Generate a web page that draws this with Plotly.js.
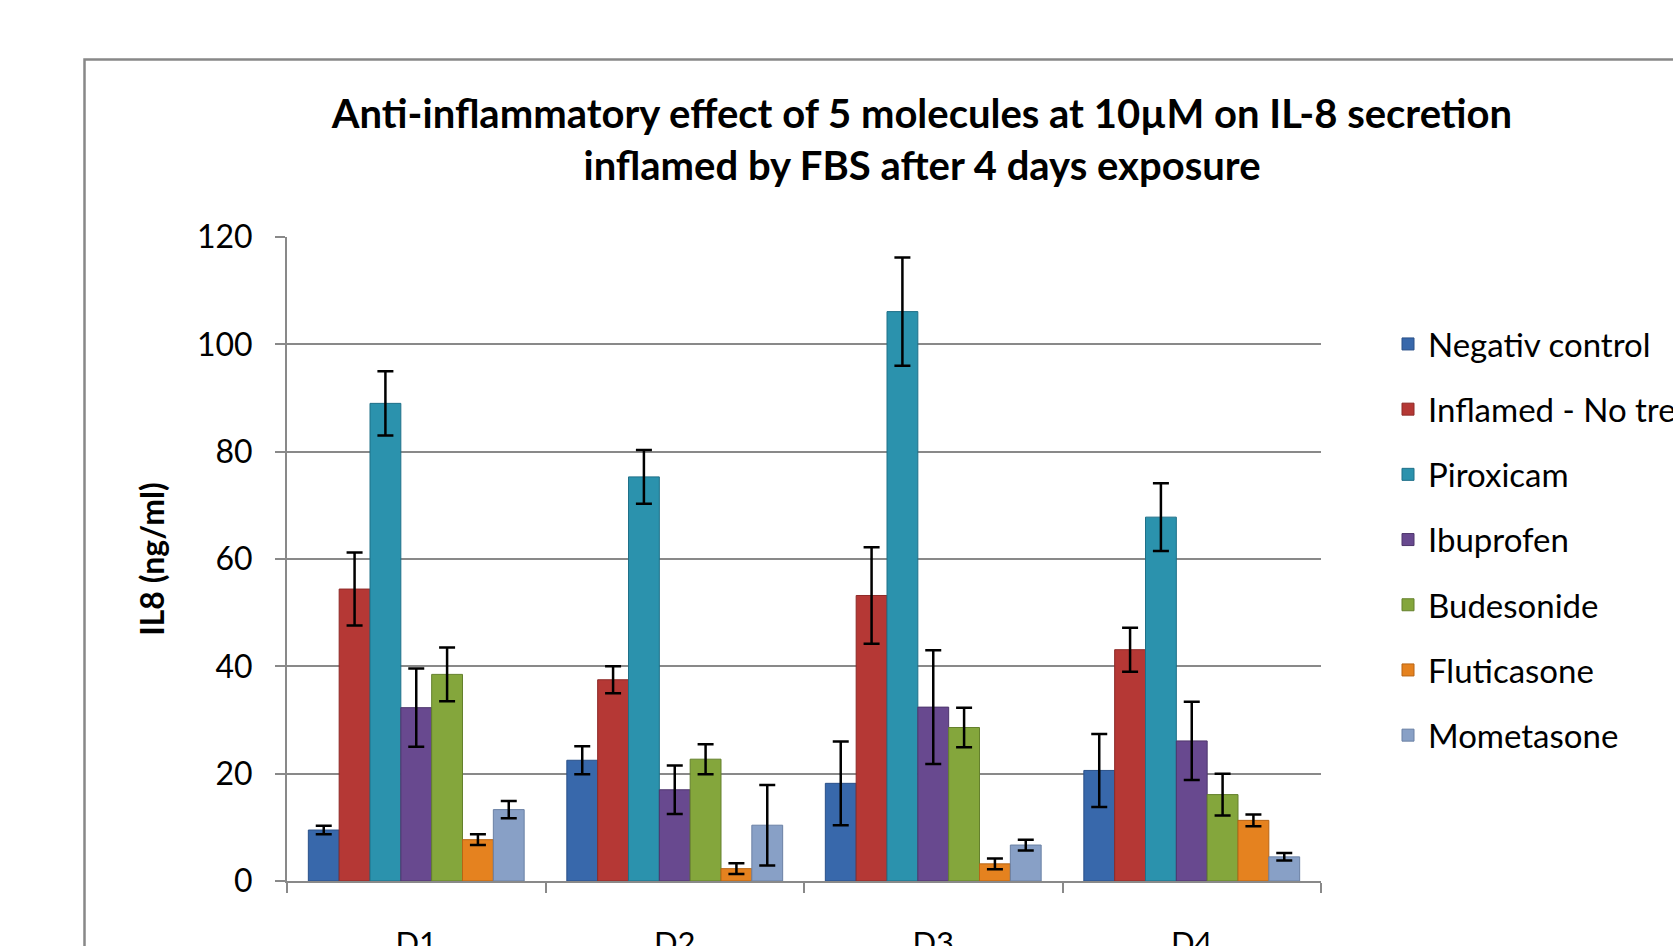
<!DOCTYPE html>
<html>
<head>
<meta charset="utf-8">
<script src="https://cdn.plot.ly/plotly-3.0.1.min.js"></script>
<style>
html,body{margin:0;padding:0;background:#fff;}
#chart{width:1673px;height:946px;}
</style>
</head>
<body>
<div id="chart"></div>
<script>
const categories = ["D1", "D2", "D3", "D4"];
const seriesNames = ["Negativ control", "Inflamed - No treatment", "Piroxicam", "Ibuprofen", "Budesonide", "Fluticasone", "Mometasone"];
const negativControl = [9.5, 22.5, 18.2, 20.6];
const negativControlErr = [0.8, 2.6, 7.8, 6.8];
const inflamed = [54.4, 37.5, 53.2, 43.1];
const inflamedErr = [6.8, 2.5, 9.0, 4.1];
const piroxicam = [89.0, 75.3, 106.1, 67.8];
const piroxicamErr = [6.0, 5.0, 10.1, 6.3];
const ibuprofen = [32.3, 17.0, 32.4, 26.1];
const ibuprofenErr = [7.3, 4.5, 10.6, 7.3];
const budesonide = [38.5, 22.7, 28.6, 16.1];
const budesonideErr = [5.0, 2.8, 3.7, 3.9];
const fluticasone = [7.7, 2.3, 3.2, 11.3];
const fluticasoneErr = [1.0, 1.0, 1.0, 1.1];
const mometasone = [13.3, 10.4, 6.7, 4.5];
const mometasoneErr = [1.6, 7.5, 1.0, 0.7];
const yTickValues = [0, 20, 40, 60, 80, 100, 120];

const seriesValues = [negativControl, inflamed, piroxicam, ibuprofen, budesonide, fluticasone, mometasone];
const seriesErrors = [negativControlErr, inflamedErr, piroxicamErr, ibuprofenErr, budesonideErr, fluticasoneErr, mometasoneErr];
const colors = ["#3868ab", "#b53835", "#2b92ad", "#68498f", "#84a63c", "#e5821f", "#88a0c6"];
const edgeColors = ["#2a5088", "#8e2a28", "#1f7088", "#4e366c", "#64802c", "#b86414", "#6a80a4"];

const W = 1673, H = 946;
const FONT = "Lato, 'Open Sans', sans-serif";

const traces = seriesNames.map((name, i) => ({
  type: "bar",
  name: name,
  x: categories,
  y: seriesValues[i],
  legendgroup: "g" + i,
  marker: { color: colors[i], line: { color: edgeColors[i], width: 1 } },
  error_y: { type: "data", array: seriesErrors[i], visible: true, color: "#000", thickness: 2.5, width: 8 },
  hoverinfo: "name+y"
}));

const layout = {
  width: W, height: H,
  margin: { l: 0, r: 0, t: 0, b: 0, autoexpand: false },
  paper_bgcolor: "#fff",
  plot_bgcolor: "#fff",
  font: { family: FONT, color: "#000" },
  barmode: "group",
  bargap: 0.165,
  bargroupgap: 0,
  title: {
    text: "Anti-inflammatory effect of 5 molecules at 10µM on IL-8 secretion<br>inflamed by FBS after 4 days exposure",
    font: { family: FONT, size: 40, color: "#000", weight: "bold" },
    x: 922 / W, xanchor: "center", xref: "paper",
    y: 1 - 128 / H, yanchor: "top", yref: "container"
  },
  xaxis: {
    domain: [287 / W, 1321 / W],
    type: "category",
    showline: true, linecolor: "#898989", linewidth: 2,
    ticks: "outside", tickson: "boundaries", ticklen: 10, tickwidth: 2, tickcolor: "#898989",
    tickfont: { family: FONT, size: 31, color: "#000" },
    ticklabelstandoff: 34,
    showgrid: false, zeroline: false, fixedrange: true
  },
  yaxis: {
    domain: [1 - 881 / H, 1 - 237 / H],
    range: [0, 120],
    tickvals: yTickValues,
    showline: true, linecolor: "#898989", linewidth: 2,
    ticks: "outside", ticklen: 10, tickwidth: 2, tickcolor: "#898989",
    tickfont: { family: FONT, size: 32, color: "#000" },
    ticklabelstandoff: 16,
    showgrid: true, gridcolor: "#898989", gridwidth: 2,
    zeroline: false, fixedrange: true,
    title: { text: "IL8 (ng/ml)", font: { family: FONT, size: 32, color: "#000", weight: "bold" }, standoff: 23 }
  },
  legend: {
    x: 1388 / W, xanchor: "left", xref: "paper",
    y: 1 - 316 / H, yanchor: "top", yref: "paper",
    font: { family: FONT, size: 33, color: "#000" },
    bgcolor: "rgba(0,0,0,0)", borderwidth: 0,
    tracegroupgap: 19.3,
    traceorder: "grouped"
  },
  shapes: [{
    type: "rect", xref: "paper", yref: "paper",
    x0: 84.5 / W, x1: 1.2, y0: -0.2, y1: 1 - 59.5 / H,
    line: { color: "#888888", width: 2.5 }, fillcolor: "rgba(0,0,0,0)", layer: "below"
  }],
  showlegend: true
};

Plotly.newPlot("chart", traces, layout, { displayModeBar: false, staticPlot: true });
</script>
</body>
</html>
